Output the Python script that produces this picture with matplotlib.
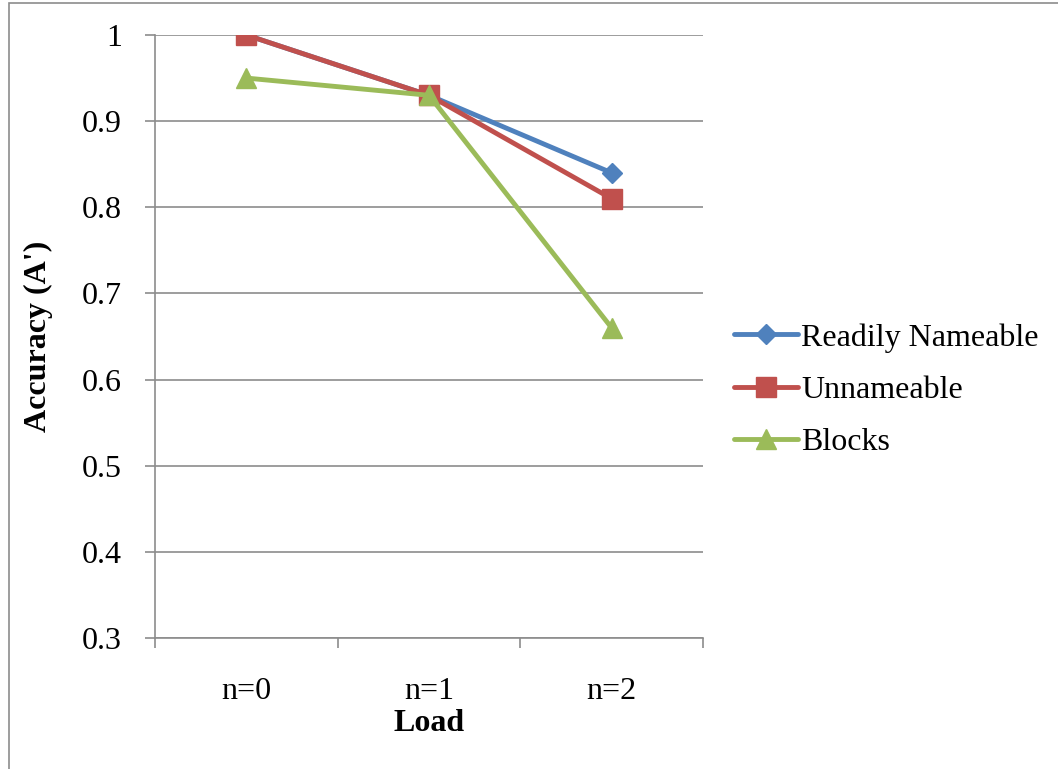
import matplotlib
matplotlib.use("Agg")
import matplotlib.pyplot as plt
from matplotlib.patches import Rectangle

categories = ["n=0", "n=1", "n=2"]
readily_nameable = [1.00, 0.93, 0.84]
unnameable = [1.00, 0.93, 0.81]
blocks = [0.95, 0.93, 0.66]
y_ticks = [0.3, 0.4, 0.5, 0.6, 0.7, 0.8, 0.9, 1.0]
y_tick_labels = ["0.3", "0.4", "0.5", "0.6", "0.7", "0.8", "0.9", "1"]

plt.rcParams['font.family'] = ['Liberation Serif', 'DejaVu Serif']
FS = 23
W, H = 1058, 769
fig = plt.figure(figsize=(W/100, H/100), dpi=100)
fig.patches.append(Rectangle((9/W, -0.1), 1.2, 1 - 3/H + 0.1, transform=fig.transFigure,
                             fill=False, edgecolor="#8c8c8c", linewidth=1.2))
ax = fig.add_axes([155/W, 1 - 638/H, (703-155)/W, (638-35)/H])

x = list(range(len(categories)))
ax.plot(x, readily_nameable, color="#4F81BD", lw=3.5, marker="D", ms=10.5,
        label="Readily Nameable", solid_joinstyle="round", solid_capstyle="round")
ax.plot(x, unnameable, color="#C0504D", lw=3.5, marker="s", ms=14,
        label="Unnameable", solid_joinstyle="round", solid_capstyle="round")
ax.plot(x, blocks, color="#9BBB59", lw=3.5, marker="^", ms=15,
        label="Blocks", solid_joinstyle="round", solid_capstyle="round")

ax.set_xlim(-0.5, 2.5)
ax.set_ylim(0.3, 1.0)
ax.set_yticks(y_ticks)
ax.set_yticklabels(y_tick_labels, fontsize=FS)
ax.set_xticks([-0.5, 0.5, 1.5, 2.5])
ax.set_xticklabels([])
ax.set_xticks(x, minor=True)
ax.set_xticklabels(categories, minor=True, fontsize=FS)
ax.tick_params(axis="x", which="minor", length=0, pad=28)
ax.tick_params(axis="x", which="major", length=7, width=1.2, color="#8c8c8c", direction="out")
ax.tick_params(axis="y", length=7, width=1.2, color="#8c8c8c", direction="out", pad=17)
ax.grid(axis="y", color="#8c8c8c", lw=1.2)
ax.set_axisbelow(True)
for s in ["top", "right"]:
    ax.spines[s].set_visible(False)
for s in ["left", "bottom"]:
    ax.spines[s].set_color("#8c8c8c")
    ax.spines[s].set_linewidth(1.2)

ax.set_xlabel("Load", fontsize=FS, fontweight="bold")
ax.xaxis.set_label_coords(0.5, -0.117)
ax.set_ylabel("Accuracy (A')", fontsize=FS, fontweight="bold")
ax.yaxis.set_label_coords(-0.187, 0.5)

leg = ax.legend(loc="center left", bbox_to_anchor=(1.033, 0.411), frameon=False,
                fontsize=FS, handlelength=2.0, handletextpad=0.1, labelspacing=0.72,
                borderaxespad=0)

fig.savefig("out.png", dpi=100)
